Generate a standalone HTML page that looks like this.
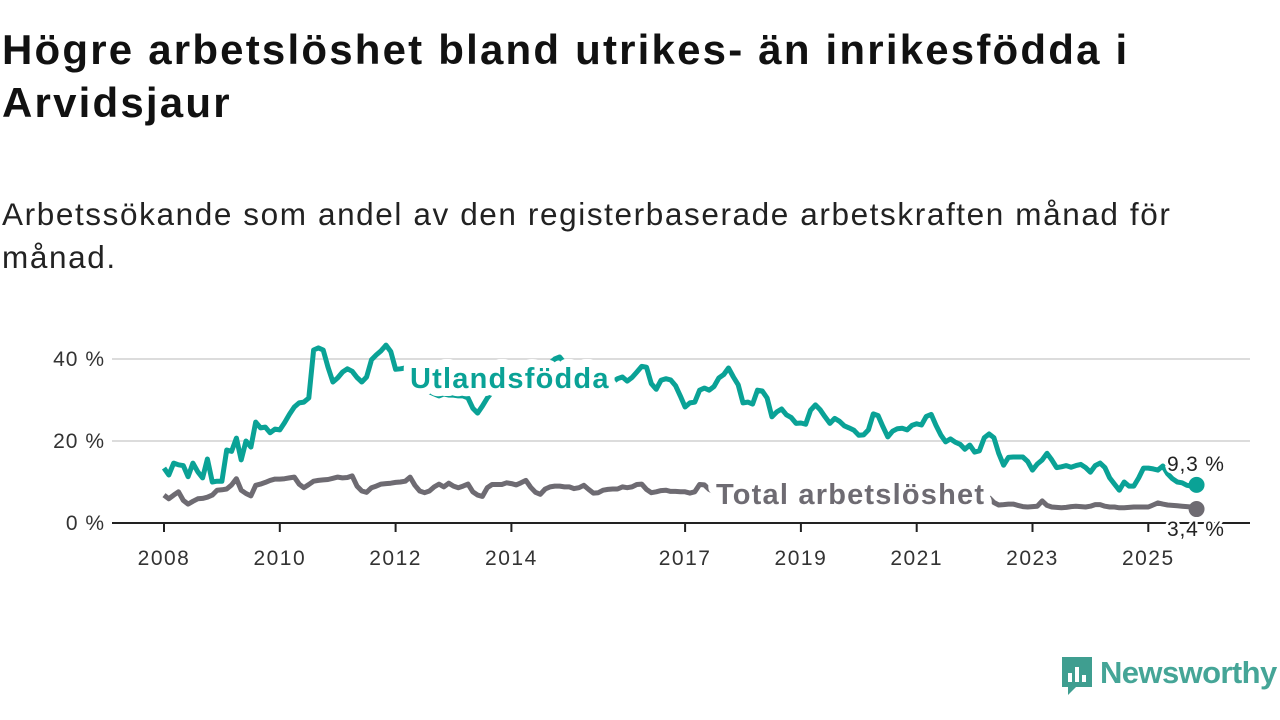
<!DOCTYPE html>
<html><head><meta charset="utf-8"><style>
body{margin:0;width:1280px;height:720px;background:#fff;overflow:hidden;font-family:"Liberation Sans",sans-serif;position:relative}
#title{position:absolute;left:2px;top:23px;font-size:42px;letter-spacing:2.2px;font-weight:bold;line-height:53px;color:#111;margin:0;width:1275px;white-space:nowrap}
#sub{position:absolute;left:2px;top:193px;font-size:31.5px;letter-spacing:1.6px;line-height:43px;color:#222;width:1275px;white-space:nowrap}
svg{position:absolute;left:0;top:0}
</style></head><body>
<h1 id="title">Högre arbetslöshet bland utrikes- än inrikesfödda i<br>Arvidsjaur</h1>
<div id="sub">Arbetssökande som andel av den registerbaserade arbetskraften månad för<br>månad.</div>
<svg id="chart" width="1280" height="720"></svg>
<div style="position:absolute;left:1060px;top:655px;width:220px;height:42px">
<svg width="34" height="42" style="left:0;top:0"><path d="M2 2h30v30h-16l-8 8v-8h-6z" fill="#3f9e90"/><rect x="8" y="18" width="4" height="9" fill="#fff"/><rect x="15" y="12" width="4" height="15" fill="#fff"/><rect x="22" y="20" width="4" height="7" fill="#fff"/></svg>
<span style="position:absolute;left:40px;top:0px;font-size:31px;color:#45a597;font-weight:bold;letter-spacing:-0.6px">Newsworthy</span></div>
<script>
const xTickLabels=["2008","2010","2012","2014","2017","2019","2021","2023","2025"];
const xTickYears=[2008,2010,2012,2014,2017,2019,2021,2023,2025];
const yTicks=[0,20,40];
const utland=[13.4,11.7,14.6,14.2,14,11.3,14.6,12.5,11,15.6,10,10.2,10.2,17.8,17.5,20.7,15.4,20,18.5,24.6,23.2,23.4,22,22.9,22.7,24.5,26.5,28.3,29.3,29.5,30.5,42.2,42.7,42.2,38,34.4,35.4,36.8,37.6,37,35.5,34.4,35.6,39.8,41,42,43.4,41.8,37.5,37.6,37.8,
36,35,34,33,32,31.5,31,31.5,31.2,31.2,31,31,30.5,28,26.8,28.5,30.5,32,
33,34,35,34,36,35,37,36,38,37,38,39,40,40.5,39,37,36,35,36,34,35,34,33,34.5,
34.4,35.2,35.6,34.6,35.5,36.8,38.2,38,34,32.6,34.8,35.2,34.9,33.5,31,28.3,29.3,29.5,32.4,32.9,32.4,33.3,35.4,36.2,37.8,35.6,33.7,29.3,29.5,29,32.4,32.2,30.5,25.9,27.1,27.8,26.4,25.7,24.3,24.4,24.1,27.5,28.8,27.6,25.9,24.3,25.5,24.8,23.7,23.2,22.6,21.4,21.5,22.7,26.6,26.2,23.5,21,22.4,23,23.1,22.7,23.8,24.2,23.9,26,26.5,23.8,21.5,19.8,20.5,19.7,19.2,18,19,17.3,17.6,20.8,21.7,20.8,17,14.1,16,16.1,16.1,16.1,15,12.9,14.4,15.4,17,15.4,13.5,13.7,14,13.6,14,14.3,13.5,12.4,14,14.6,13.5,11,9.5,8,10,9,9,11,13.4,13.4,13.2,12.9,13.9,12,10.8,10,9.8,9.2,9,9.3];
const total=[6.8,5.9,6.8,7.6,5.5,4.6,5.3,5.9,6,6.3,6.8,8,8.1,8.3,9.3,10.8,8,7.2,6.6,9.2,9.5,9.9,10.4,10.7,10.7,10.8,11,11.2,9.5,8.6,9.4,10.2,10.4,10.5,10.6,10.9,11.2,11,11.1,11.5,9,7.8,7.5,8.6,9,9.5,9.6,9.7,9.9,10,10.2,11.2,9.2,7.8,7.4,7.8,8.8,9.5,8.8,9.7,9,8.6,9,9.5,7.6,6.8,6.5,8.6,9.4,9.4,9.4,9.8,9.6,9.3,9.8,10.4,8.7,7.5,7,8.3,8.8,9,9,8.8,8.8,8.4,8.6,9.2,8.2,7.3,7.4,8,8.2,8.3,8.3,8.8,8.6,8.8,9.4,9.5,8.2,7.4,7.6,7.9,8,7.7,7.7,7.6,7.6,7.3,7.6,9.4,9.3,8.2,
7.6,7.4,7.8,7.2,7.5,7.9,7.1,7,7.4,7.2,7.6,7.3,6.9,6.8,7.1,6.9,6.6,6.8,7,6.7,6.5,6.6,6.9,6.4,6.3,6.6,6.8,6.5,6.3,6.4,6.6,6.3,6.2,6.4,6.7,6.5,6.1,6.3,6.6,6.4,6.2,6.3,6.5,6.2,6,6.1,6.4,6.2,6,6.2,6.3,6.1,6,6.2,6.4,6.6,6.8,
6.2,5,4.4,4.5,4.6,4.6,4.3,4,3.9,4,4.1,5.4,4.3,3.9,3.8,3.7,3.8,4,4.1,4,3.9,4.1,4.5,4.5,4.1,3.9,3.9,3.7,3.7,3.8,3.9,3.9,3.9,3.9,4.4,4.9,4.6,4.4,4.3,4.2,4.1,4,3.9,3.4];
const seriesLabels=["Utlandsfödda","Total arbetslöshet"];
const lastLabels=["9,3 %","3,4 %"];

const NS="http://www.w3.org/2000/svg";
const svg=document.getElementById('chart');
const x0=164,pxYear=57.9,yBase=523,pxUnit=4.1,left=112,right=1250;
const xMonth=i=>x0+i*pxYear/12;
const xYear=y=>x0+(y-2008)*pxYear;
const yV=v=>yBase-v*pxUnit;
function mk(t,a){const e=document.createElementNS(NS,t);for(const k in a)e.setAttribute(k,a[k]);svg.appendChild(e);return e;}

yTicks.forEach(v=>{
  if(v>0){const g=mk('line',{x1:left,x2:right,y1:yV(v),y2:yV(v),stroke:'#dcdcdc','stroke-width':2});
  
  }
  const t=mk('text',{x:105,y:yV(v)+7,'text-anchor':'end','font-size':21,'letter-spacing':1,fill:'#333'});
  t.textContent=v+' %';
  
  
});
const ax=mk('line',{x1:left,x2:right,y1:yBase,y2:yBase,stroke:'#222','stroke-width':2});


xTickYears.forEach((yr,i)=>{
  const x=xYear(yr);
  const tk=mk('line',{x1:x,x2:x,y1:yBase,y2:yBase+9,stroke:'#222','stroke-width':2});
  
  
  const t=mk('text',{x:x,y:565,'text-anchor':'middle','font-size':21,'letter-spacing':1.5,fill:'#333'});
  t.textContent=xTickLabels[i];
  
  
});
function line(data,color,name){
  const d=data.map((v,i)=>(i?'L':'M')+xMonth(i).toFixed(1)+' '+yV(v).toFixed(1)).join('');
  const p=mk('path',{d:d,fill:'none',stroke:color,'stroke-width':5,'stroke-linejoin':'round'});
  
  
}
line(total,'#6e6b72','total-line');
line(utland,'#0aa296','utlandsfodda-line');
function halo(txt,x,y,color,name){
  const t=mk('text',{x:x,y:y,'font-size':29,'letter-spacing':1.2,'font-weight':'bold',fill:color,stroke:'#fff','stroke-width':16,'stroke-linejoin':'round','paint-order':'stroke'});
  t.textContent=txt;
  
  
}
halo(seriesLabels[0],410,388,'#0aa296','utlandsfodda-label');
halo(seriesLabels[1],716,504,'#6e6b72','total-label');
const n=utland.length-1;
const d1=mk('circle',{cx:xMonth(n),cy:yV(utland[n]),r:8,fill:'#0aa296'});


const m=total.length-1;
const d2=mk('circle',{cx:xMonth(m),cy:yV(total[m]),r:8,fill:'#6e6b72'});


const l1=mk('text',{x:1167,y:471,'font-size':21,'letter-spacing':0.8,fill:'#222',stroke:'#fff','stroke-width':5,'paint-order':'stroke'});
l1.textContent=lastLabels[0];


const l2=mk('text',{x:1167,y:536,'font-size':21,'letter-spacing':0.8,fill:'#222',stroke:'#fff','stroke-width':5,'paint-order':'stroke'});
l2.textContent=lastLabels[1];


</script>
</body></html>
